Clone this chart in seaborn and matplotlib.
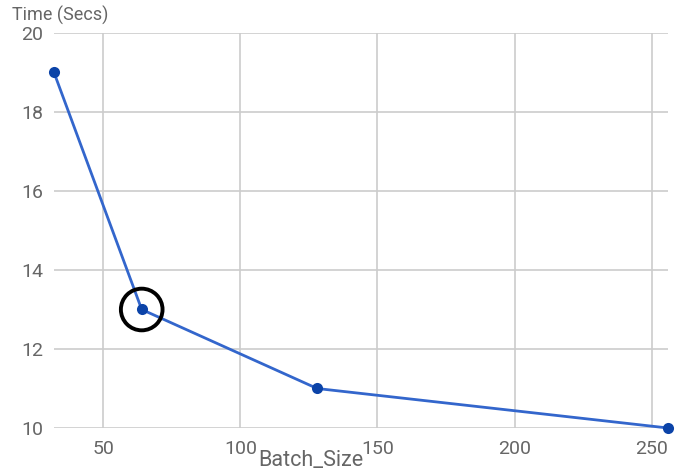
import seaborn as sns
import matplotlib.pyplot as plt
import pandas as pd

batch_size = [32, 64, 128, 256]
time_secs = [19, 13, 11, 10]
highlight_x = [64]
highlight_y = [13]

sns.set_theme(style="white")
plt.rcParams['font.family'] = ['Roboto', 'DejaVu Sans']

df = pd.DataFrame({'Batch_Size': batch_size, 'Time': time_secs})

fig = plt.figure(figsize=(6.91, 4.74), dpi=100)
ax = fig.add_axes([54 / 691, 46 / 474, 614 / 691, 395 / 474])

sns.lineplot(data=df, x='Batch_Size', y='Time', ax=ax, color='#3366cc',
             linewidth=2, marker='o', markersize=8, markeredgewidth=0,
             markerfacecolor='#0b43a8', clip_on=False, zorder=3)
# highlighted point
ax.scatter(highlight_x, highlight_y, s=900, facecolors='none',
           edgecolors='black', linewidths=2.8, zorder=4, clip_on=False)

ax.set_xlim(32, 256)
ax.set_ylim(10, 20)
ax.set_xticks([50, 100, 150, 200, 250])
ax.set_yticks([10, 12, 14, 16, 18, 20])
ax.grid(True, color='#cccccc', linewidth=1.2)
ax.set_axisbelow(True)
for s in ax.spines.values():
    s.set_visible(False)
ax.tick_params(axis='both', length=0, labelsize=14, colors='#666666')
ax.tick_params(axis='y', pad=8)
ax.tick_params(axis='x', pad=9)
ax.set_xlabel('')
ax.set_ylabel('')

fig.text(12 / 691, 1 - 15 / 474, 'Time (Secs)', fontsize=13, color='#666666',
         ha='left', va='center')
fig.text(311 / 691, 1 - 461 / 474, 'Batch_Size', fontsize=15.5, color='#666666',
         ha='center', va='center')

fig.savefig('out.png', dpi=100)
